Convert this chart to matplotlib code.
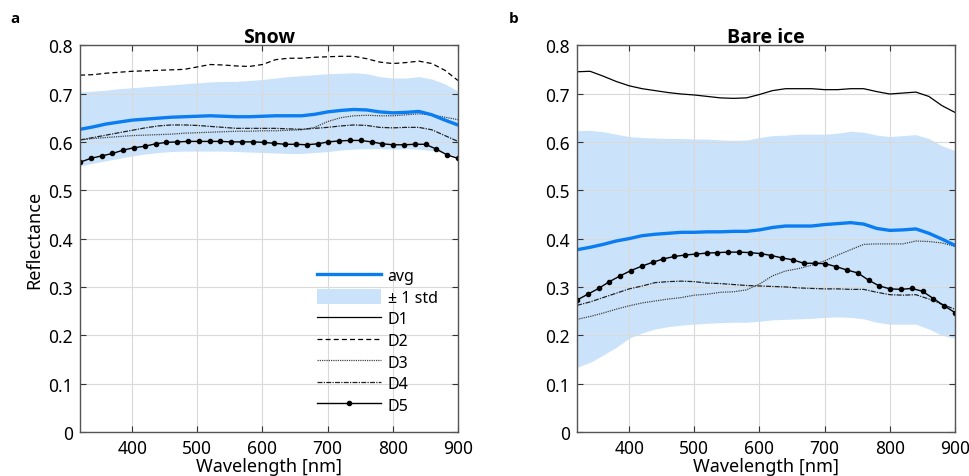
import numpy as np
import matplotlib
matplotlib.use("Agg")
import matplotlib.pyplot as plt
from matplotlib.patches import Patch
from matplotlib.lines import Line2D

# wavelength grids
wl = np.arange(320, 901, 20)
wl_d5 = np.linspace(320, 900, 36)

# --- Snow ---
snow_avg = [0.626, 0.631, 0.637, 0.641, 0.645, 0.647, 0.649, 0.651, 0.652, 0.653,
            0.654, 0.653, 0.652, 0.652, 0.653, 0.654, 0.654, 0.654, 0.657, 0.662,
            0.665, 0.667, 0.666, 0.662, 0.660, 0.661, 0.663, 0.656, 0.645, 0.635]
snow_hi = [0.703, 0.705, 0.707, 0.710, 0.712, 0.714, 0.716, 0.718, 0.720, 0.722,
           0.724, 0.725, 0.725, 0.727, 0.729, 0.732, 0.735, 0.737, 0.739, 0.741,
           0.742, 0.743, 0.741, 0.735, 0.732, 0.732, 0.735, 0.730, 0.720, 0.705]
snow_lo = [0.550, 0.556, 0.561, 0.566, 0.571, 0.575, 0.578, 0.580, 0.581, 0.581,
           0.581, 0.581, 0.580, 0.579, 0.578, 0.577, 0.576, 0.576, 0.578, 0.580,
           0.583, 0.585, 0.586, 0.586, 0.585, 0.586, 0.585, 0.582, 0.577, 0.570]
snow_d2 = [0.738, 0.739, 0.742, 0.744, 0.746, 0.747, 0.748, 0.749, 0.750, 0.755,
           0.760, 0.759, 0.757, 0.756, 0.760, 0.770, 0.773, 0.773, 0.775, 0.776,
           0.777, 0.777, 0.772, 0.765, 0.762, 0.764, 0.767, 0.762, 0.748, 0.727]
snow_d3 = [0.604, 0.607, 0.609, 0.611, 0.613, 0.614, 0.615, 0.616, 0.618, 0.619,
           0.620, 0.621, 0.622, 0.622, 0.623, 0.623, 0.624, 0.625, 0.630, 0.642,
           0.650, 0.654, 0.655, 0.654, 0.654, 0.656, 0.658, 0.656, 0.651, 0.646]
snow_d4 = [0.604, 0.609, 0.614, 0.619, 0.624, 0.629, 0.633, 0.635, 0.635, 0.634,
           0.632, 0.630, 0.628, 0.628, 0.628, 0.628, 0.627, 0.626, 0.628, 0.630,
           0.633, 0.635, 0.634, 0.630, 0.629, 0.630, 0.630, 0.625, 0.613, 0.601]
snow_d5 = [0.558, 0.566, 0.571, 0.576, 0.583, 0.588, 0.591, 0.596, 0.599, 0.600,
           0.601, 0.601, 0.601, 0.601, 0.600, 0.600, 0.600, 0.599, 0.597, 0.595,
           0.595, 0.594, 0.596, 0.600, 0.602, 0.603, 0.603, 0.600, 0.596, 0.594,
           0.594, 0.595, 0.595, 0.585, 0.573, 0.566]

# --- Bare ice ---
ice_avg = [0.377, 0.382, 0.388, 0.395, 0.400, 0.406, 0.409, 0.411, 0.413, 0.413,
           0.414, 0.414, 0.415, 0.415, 0.418, 0.423, 0.426, 0.426, 0.426, 0.429,
           0.431, 0.433, 0.430, 0.421, 0.417, 0.418, 0.420, 0.411, 0.399, 0.386]
ice_hi = [0.623, 0.624, 0.621, 0.616, 0.611, 0.609, 0.608, 0.607, 0.607, 0.606,
          0.606, 0.604, 0.603, 0.604, 0.609, 0.613, 0.614, 0.616, 0.616, 0.616,
          0.618, 0.622, 0.620, 0.614, 0.611, 0.613, 0.615, 0.607, 0.592, 0.582]
ice_lo = [0.134, 0.144, 0.159, 0.175, 0.194, 0.205, 0.213, 0.218, 0.221, 0.223,
          0.225, 0.226, 0.227, 0.227, 0.229, 0.232, 0.233, 0.234, 0.235, 0.237,
          0.238, 0.237, 0.234, 0.227, 0.223, 0.223, 0.223, 0.213, 0.200, 0.194]
ice_d1 = [0.745, 0.746, 0.736, 0.725, 0.716, 0.710, 0.706, 0.702, 0.699, 0.697,
          0.694, 0.691, 0.690, 0.691, 0.698, 0.706, 0.710, 0.710, 0.710, 0.708,
          0.708, 0.710, 0.710, 0.704, 0.699, 0.701, 0.703, 0.694, 0.675, 0.661]
ice_d3 = [0.233, 0.239, 0.246, 0.254, 0.261, 0.267, 0.271, 0.275, 0.278, 0.283,
          0.285, 0.289, 0.290, 0.294, 0.306, 0.323, 0.333, 0.338, 0.345, 0.354,
          0.366, 0.377, 0.388, 0.389, 0.389, 0.389, 0.395, 0.394, 0.391, 0.384]
ice_d4 = [0.262, 0.269, 0.278, 0.287, 0.296, 0.302, 0.309, 0.311, 0.312, 0.311,
          0.308, 0.307, 0.305, 0.303, 0.302, 0.301, 0.300, 0.298, 0.297, 0.296,
          0.296, 0.295, 0.295, 0.289, 0.284, 0.283, 0.284, 0.275, 0.264, 0.254]
ice_d5 = [0.273, 0.285, 0.297, 0.311, 0.323, 0.334, 0.343, 0.351, 0.358, 0.363,
          0.366, 0.368, 0.370, 0.371, 0.372, 0.372, 0.371, 0.369, 0.365, 0.360,
          0.356, 0.349, 0.349, 0.348, 0.342, 0.335, 0.329, 0.314, 0.302, 0.296,
          0.295, 0.297, 0.291, 0.276, 0.261, 0.247]

BLUE = '#0A7DF2'
BAND = '#CBE3FA'
plt.rcParams['font.family'] = ['Noto Sans', 'DejaVu Sans']
BOLD = ['Open Sans', 'DejaVu Sans']

STYLES = {
    'D1': dict(color='k', lw=0.9, ls='-'),
    'D2': dict(color='k', lw=0.9, ls=(0, (4, 2.5))),
    'D3': dict(color='#444444', lw=0.9, ls=(0, (1, 0.8))),
    'D4': dict(color='#222222', lw=0.9, ls=(0, (4, 1, 1, 1))),
    'D5': dict(color='k', lw=1.0, ls='-', marker='o', ms=3),
}

fig = plt.figure(figsize=(9.69, 4.77), dpi=100)
ax1 = fig.add_axes([0.0826, 0.0922, 0.390, 0.811])
ax2 = fig.add_axes([0.5955, 0.0922, 0.390, 0.811])


def draw(ax, avg, lo, hi, lines, d5, title):
    ax.fill_between(wl, lo, hi, color=BAND, lw=0, zorder=1)
    ax.plot(wl, avg, color=BLUE, lw=2.4, zorder=4)
    for name, vals in lines.items():
        ax.plot(wl, vals, zorder=3, **STYLES[name])
    ax.plot(wl_d5, d5, zorder=3, **STYLES['D5'])
    ax.set_xlim(320, 900)
    ax.set_ylim(0, 0.8)
    ax.set_xticks([400, 500, 600, 700, 800, 900])
    yt = np.arange(0, 0.81, 0.1)
    ax.set_yticks(yt)
    ax.set_yticklabels(['0'] + ['%.1f' % v for v in yt[1:]])
    ax.grid(True, color='#d9d9d9', lw=0.8, zorder=0)
    ax.tick_params(direction='in', top=True, right=True, length=4,
                   labelsize=12.5, color='#333333', pad=5)
    for s in ax.spines.values():
        s.set_color('#555555')
        s.set_linewidth(1.0)
        s.set_zorder(5)
    ax.set_xlabel('Wavelength [nm]', fontsize=13, labelpad=0)
    ax.set_title(title, fontsize=14, fontweight='bold', family=BOLD, pad=2)


draw(ax1, snow_avg, snow_lo, snow_hi, {'D2': snow_d2, 'D3': snow_d3, 'D4': snow_d4},
     snow_d5, 'Snow')
draw(ax2, ice_avg, ice_lo, ice_hi, {'D1': ice_d1, 'D3': ice_d3, 'D4': ice_d4},
     ice_d5, 'Bare ice')
ax1.set_ylabel('Reflectance', fontsize=13, labelpad=4)

handles = [Line2D([], [], color=BLUE, lw=2.4),
           Patch(facecolor=BAND, edgecolor='none')]
handles += [Line2D([], [], **STYLES[k]) for k in ['D1', 'D2', 'D3', 'D4', 'D5']]
labels = ['avg', '\u00b1 1 std', 'D1', 'D2', 'D3', 'D4', 'D5']
leg = ax1.legend(handles, labels, loc='lower left', bbox_to_anchor=(0.59, 0.01),
                 frameon=False, fontsize=11.5, handlelength=4.0, handleheight=1.1,
                 labelspacing=0.28, handletextpad=0.4, numpoints=1)
leg.set_zorder(6)

fig.text(0.011, 0.952, 'a', fontsize=11, fontweight='bold', family=BOLD)
fig.text(0.525, 0.952, 'b', fontsize=11, fontweight='bold', family=BOLD)

fig.savefig('out.png', dpi=100)
